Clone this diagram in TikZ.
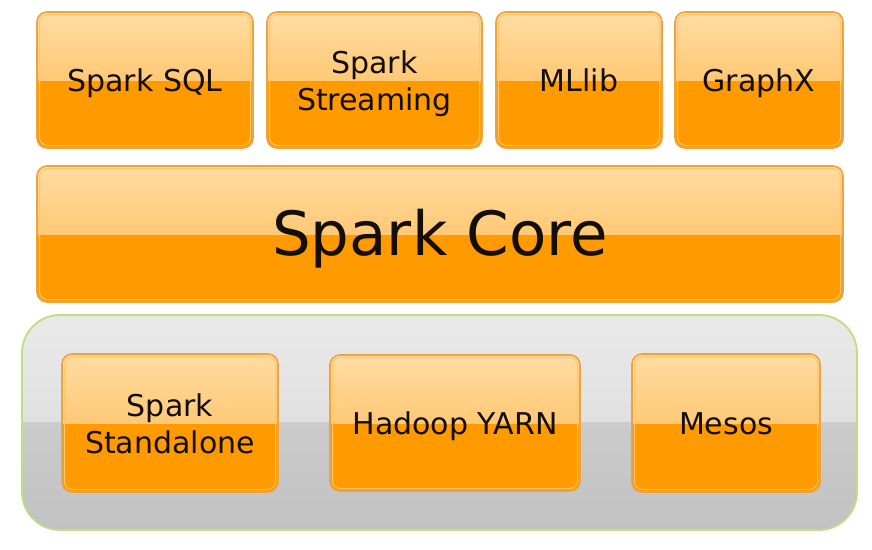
\documentclass[tikz,border=0pt]{standalone}
\usepackage{fontspec}
\setmainfont{DejaVu Sans}
\newcommand\ls{\rule[-7pt]{0pt}{37pt}}
\begin{document}
\begin{tikzpicture}[x=1pt,y=-1pt,
  orangebox/.style={draw=boxedge, line width=1.6pt, rounded corners=10pt, fill=orangelow,
    inner sep=0pt, text=textdark, font=\fontsize{30}{37}\selectfont, align=center,
    path picture={
      \shade[sharp corners, top color=orangetop, bottom color=orangemid]
        (path picture bounding box.north west) rectangle (path picture bounding box.east);
      \draw[orangehi, line width=1pt, rounded corners=8pt]
        ([shift={(2.5pt,2.5pt)}]path picture bounding box.south west) rectangle
        ([shift={(-2.5pt,-2.5pt)}]path picture bounding box.north east);
    }},
  clusterbox/.style={draw=greenedge, line width=1.8pt, rounded corners=38pt, fill=graylow,
    inner sep=0pt,
    path picture={
      \shade[sharp corners, top color=graytop, bottom color=graymid]
        (path picture bounding box.north west) rectangle (path picture bounding box.east);
      \shade[sharp corners, top color=graylow, bottom color=graybot]
        (path picture bounding box.west) rectangle (path picture bounding box.south east);
    }}
]
\definecolor{boxedge}{HTML}{EBA441}
\definecolor{orangelow}{HTML}{FF9A00}
\definecolor{orangetop}{HTML}{FFDCA2}
\definecolor{orangemid}{HTML}{FFB64A}
\definecolor{orangehi}{HTML}{FFC66A}
\definecolor{textdark}{HTML}{140E06}
\definecolor{greenedge}{HTML}{BCDF84}
\definecolor{graytop}{HTML}{E9E9E9}
\definecolor{graymid}{HTML}{D9D9D9}
\definecolor{graylow}{HTML}{CBCBCB}
\definecolor{graybot}{HTML}{C2C2C2}

\useasboundingbox (0,0) rectangle (872,549);

\node[orangebox, minimum width=216pt, minimum height=136pt] (sql) at (145,80) {\ls Spark SQL};
\node[orangebox, minimum width=215pt, minimum height=136pt] (streaming) at (374.5,80) {\ls Spark\\\ls Streaming};
\node[orangebox, minimum width=166pt, minimum height=136pt] (mllib) at (579,80) {\ls MLlib};
\node[orangebox, minimum width=168pt, minimum height=136pt] (graphx) at (759,80) {\ls GraphX};

\node[orangebox, minimum width=806pt, minimum height=136pt, font=\fontsize{61}{64}\selectfont] (core) at (440,234) {\rule[-14pt]{0pt}{70pt}Spark Core};

\node[clusterbox, minimum width=835pt, minimum height=215pt] (cluster) at (439.5,422.5) {};

\node[orangebox, minimum width=216pt, minimum height=138pt] (standalone) at (170,423) {\ls Spark\\\ls Standalone};
\node[orangebox, minimum width=250pt, minimum height=136pt] (yarn) at (455,423) {\ls Hadoop YARN};
\node[orangebox, minimum width=188pt, minimum height=138pt] (mesos) at (726,423) {\ls Mesos};
\end{tikzpicture}
\end{document}
